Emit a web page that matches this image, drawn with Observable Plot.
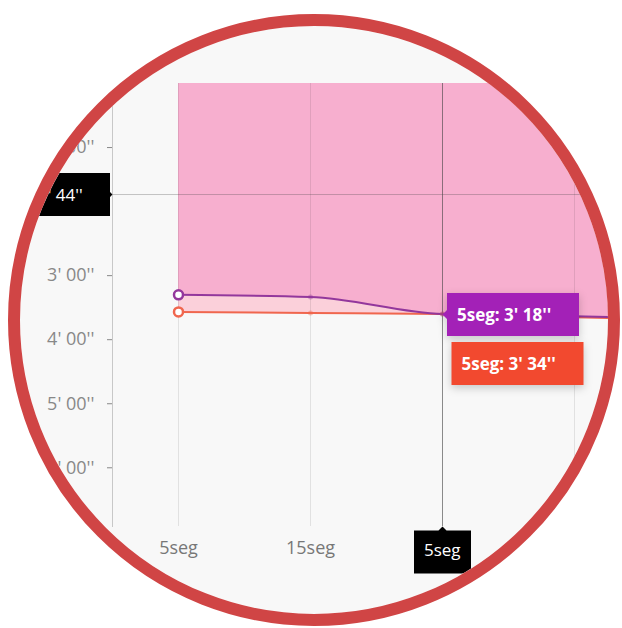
<!DOCTYPE html>
<html><head><meta charset="utf-8">
<script src="https://cdn.jsdelivr.net/npm/d3@7"></script>
<script src="https://cdn.jsdelivr.net/npm/@observablehq/plot@0.6"></script>
<style>
body{margin:0;background:#fff;font-family:Roboto,"Open Sans",sans-serif;}
#wrap{position:relative;width:622px;height:628px;overflow:hidden;}
#chart svg{position:absolute;left:0;top:0;clip-path:circle(294px at 314px 320px);background:#f8f8f8;}
#ring{position:absolute;left:8px;top:14px;width:612px;height:612px;box-sizing:border-box;border:12px solid #d04545;border-radius:50%;}
.wtip text,.wtip tspan{fill:#fff !important;}
</style></head>
<body>
<div id="wrap"><div id="chart"></div><div id="ring"></div></div>
<script>
// categories (x) and series values in seconds
const categories = ["5seg", "15seg", "30seg", "1min", "2min"];
const purpleValues = [198, 200, 216, 218, 221];
const redValues = [214, 215, 216, 219, 222];
const yTicks = [60, 180, 240, 300, 360];
const xTicks = ["5seg", "15seg"];
const crossX = "30seg";
const crossXLabel = "5seg";
const crossY = 104;

const fmt = s => `${Math.floor(s / 60)}' ${String(Math.round(s % 60)).padStart(2, "0")}''`;
const pad = "\u00a0\u00a0\u00a0\u00a0";
const purpleRows = categories.map((c, i) => ({x: c, y: purpleValues[i]}));
const redRows = categories.map((c, i) => ({x: c, y: redValues[i]}));

const purpleLine = "#93379c", purpleFill = "#a321b7";
const redLine = "#f0664e", redFill = "#f2492f";
const axisFont = "'Open Sans', Roboto, sans-serif";

const chart = Plot.plot({
  width: 622, height: 628,
  marginLeft: 112, marginRight: 0, marginTop: 83, marginBottom: 102,
  style: {fontFamily: "Roboto, 'Open Sans', sans-serif", background: "#f8f8f8"},
  x: {type: "point", domain: categories, padding: 0, range: [178, 178 + 132 * (categories.length - 1)]},
  y: {domain: [0, 415], reverse: true},
  marks: [
    Plot.areaY(redRows, {x: "x", y: "y", fill: "#fbd0da", curve: "monotone-x"}),
    Plot.areaY(purpleRows, {x: "x", y: "y", fill: "#f7afcf", curve: "monotone-x"}),
    Plot.ruleX(categories, {stroke: "#000", strokeOpacity: 0.09}),
    Plot.ruleX([crossX], {stroke: "#444", strokeOpacity: 0.55}),
    Plot.ruleY([crossY], {stroke: "#444", strokeOpacity: 0.3}),
    Plot.frame({anchor: "left", stroke: "#c8c8c8"}),
    Plot.axisY({ticks: yTicks, tickFormat: fmt, tickSize: 5, tickPadding: 13, fontSize: 18, fontFamily: axisFont, color: "#888"}),
    Plot.axisX({ticks: xTicks, tickSize: 0, tickPadding: 15, fontSize: 18, fontFamily: axisFont, color: "#777"}),
    Plot.line(redRows, {x: "x", y: "y", stroke: redLine, strokeWidth: 2, curve: "monotone-x"}),
    Plot.line(purpleRows, {x: "x", y: "y", stroke: purpleLine, strokeWidth: 2, curve: "monotone-x"}),
    Plot.dot(redRows.slice(1, 3), {x: "x", y: "y", r: 2.5, fill: redLine, fillOpacity: 0.4}),
    Plot.dot(purpleRows.slice(1, 3), {x: "x", y: "y", r: 2.5, fill: purpleLine, fillOpacity: 0.4}),
    Plot.dot(redRows.slice(0, 1), {x: "x", y: "y", r: 4.5, stroke: redLine, strokeWidth: 2.5, fill: "#fff"}),
    Plot.dot(purpleRows.slice(0, 1), {x: "x", y: "y", r: 4.5, stroke: purpleLine, strokeWidth: 2.5, fill: "#fff"}),
    Plot.tip([{x: crossX, y: purpleValues[2], t: `${categories[0]}: ${fmt(purpleValues[0])}${pad}`}],
      {x: "x", y: "y", title: "t", anchor: "left", fill: purpleFill, stroke: "none", pointerSize: 9,
       textPadding: 10, fontSize: 17, fontFamily: axisFont, fontWeight: "bold", className: "wtip"}),
    Plot.tip([{x: crossX, y: redValues[2], t: `${categories[0]}: ${fmt(redValues[0])}${pad}`}],
      {x: "x", y: "y", title: "t", anchor: "left", dx: 9, dy: 49, fill: redFill, stroke: "none", pointerSize: 0,
       textPadding: 10, fontSize: 17, fontFamily: axisFont, fontWeight: "bold", className: "wtip"}),
    Plot.tip([{y: crossY, t: `${fmt(crossY)}${pad}`}],
      {y: "y", title: "t", frameAnchor: "left", anchor: "right", fill: "#000", stroke: "none", pointerSize: 5,
       textPadding: 10, fontSize: 17, fontFamily: axisFont, pathFilter: "none", className: "wtip"}),
    Plot.tip([{x: crossX, t: crossXLabel}],
      {x: "x", title: "t", frameAnchor: "bottom", anchor: "top", fill: "#000", stroke: "none", pointerSize: 8,
       textPadding: 10, fontSize: 17, fontFamily: axisFont, pathFilter: "none", className: "wtip"})
  ]
});
document.getElementById("chart").append(chart);
</script>
</body></html>
